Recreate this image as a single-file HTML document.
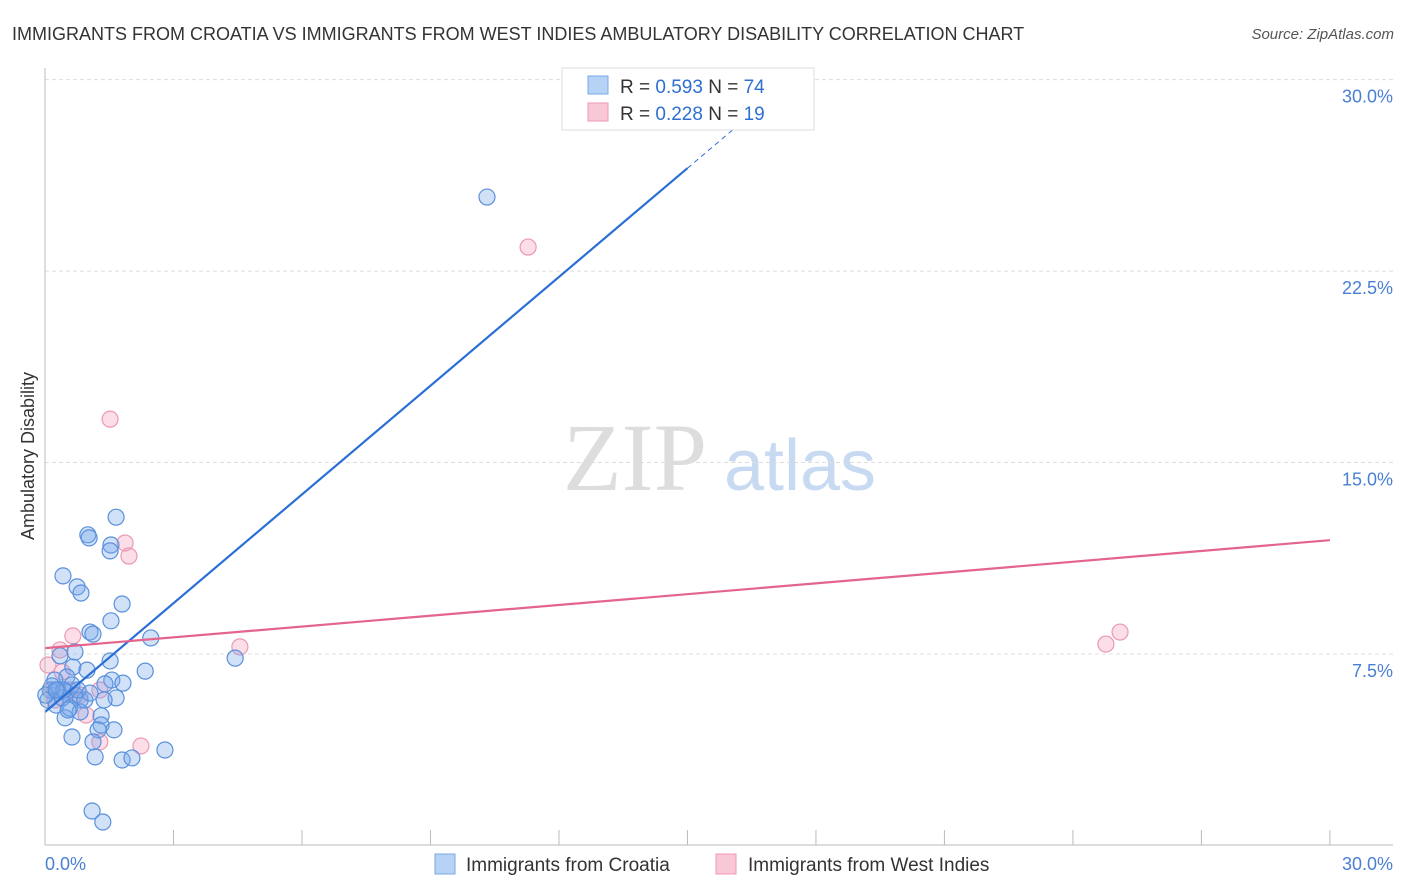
<!DOCTYPE html>
<html><head><meta charset="utf-8"><style>
body{margin:0;background:#fff;font-family:"Liberation Sans",sans-serif}
svg{display:block}
</style></head><body>
<svg id="c" width="1406" height="892">
<text x="12" y="40" font-size="18" fill="#333">IMMIGRANTS FROM CROATIA VS IMMIGRANTS FROM WEST INDIES AMBULATORY DISABILITY CORRELATION CHART</text>
<text x="1394" y="39" font-size="15" fill="#555" font-style="italic" text-anchor="end">Source: ZipAtlas.com</text>
<text x="34" y="456" font-size="18" fill="#333" text-anchor="middle" transform="rotate(-90 34 456)">Ambulatory Disability</text>
<g><text x="635" y="490" font-size="96" fill="#ddd" font-family="Liberation Serif" text-anchor="middle">ZIP</text><text x="800" y="490" font-size="72" fill="#c8daf2" text-anchor="middle">atlas</text></g>
<g id="grid"></g><g id="pts"></g><g id="lines"></g>
<line x1="45" y1="68" x2="45" y2="845" stroke="#bbb"/>
<line x1="45" y1="845" x2="1393" y2="845" stroke="#bbb"/>
<text x="45" y="870" font-size="18" fill="#4a7fd4">0.0%</text>
<text x="1393" y="870" font-size="18" fill="#4a7fd4" text-anchor="end">30.0%</text>
<g>
<rect x="562" y="68" width="252" height="62" fill="#fff" stroke="#ddd"/>
<rect x="588" y="76" width="20" height="18" fill="#b6d3f6" stroke="#7aaae8"/>
<rect x="588" y="103" width="20" height="18" fill="#f9c8d6" stroke="#ee9ab3"/>
<text x="620" y="93" font-size="19" fill="#333">R = <tspan fill="#2f6fd0">0.593</tspan>   N = <tspan fill="#2f6fd0">74</tspan></text>
<text x="620" y="120" font-size="19" fill="#333">R = <tspan fill="#2f6fd0">0.228</tspan>   N = <tspan fill="#2f6fd0">19</tspan></text>
</g>
<g>
<rect x="435" y="854" width="20" height="20" fill="#b6d3f6" stroke="#7aaae8"/>
<text x="466" y="871" font-size="19" fill="#333">Immigrants from Croatia</text>
<rect x="716" y="854" width="20" height="20" fill="#f9c8d6" stroke="#ee9ab3"/>
<text x="748" y="871" font-size="19" fill="#333">Immigrants from West Indies</text>
</g>
</svg>
<script>
const yTicks=[7.5,15,22.5,30];
const yTickLabels=["7.5%","15.0%","22.5%","30.0%"];
const xTicks=[0,3,6,9,12,15,18,21,24,27,30];
const croatiaX=[10.32,4.44,2.80,2.47,2.34,1.80,1.66,1.54,1.52,1.00,1.03,0.42,0.75,0.84,1.54,1.05,1.12,1.52,1.56,1.82,1.40,1.66,1.38,1.31,1.31,1.61,1.24,1.80,2.03,1.17,1.12,0.63,0.47,1.10,1.35,0.70,0.35,0.65,0.98,0.51,0.23,0.12,0.30,0.49,0.70,0.82,0.07,0.26,0.58,0.82,0.40,0.16,0.93,0.63,0.44,0.02,0.77,0.54,0.26,1.05];
const croatiaY=[25.40,7.34,3.74,8.13,6.83,9.46,12.86,11.77,11.54,12.17,12.05,10.56,10.13,9.89,8.80,8.36,8.28,7.23,6.48,6.36,6.33,5.78,5.70,5.08,4.72,4.53,4.53,3.35,3.43,3.47,4.06,4.25,5.00,1.35,0.92,7.58,7.43,6.99,6.87,6.60,6.48,6.09,6.09,6.01,5.89,5.70,5.70,5.50,5.38,5.23,5.78,6.25,5.70,6.29,6.09,5.89,6.09,5.31,6.09,5.97];
const wiX=[1.52,1.87,1.96,11.28,4.55,25.10,24.77,0.65,0.35,0.07,0.40,0.16,0.58,0.82,1.28,2.24,1.28,0.96,0.23];
const wiY=[16.70,11.85,11.34,23.44,7.78,8.36,7.89,8.21,7.66,7.07,6.80,6.09,6.09,5.89,6.09,3.90,4.06,5.11,5.70];
const croatiaFit=[5.23,1.42];
const wiFit=[7.73,0.141];
const NS='http://www.w3.org/2000/svg';
const sx=v=>45+v*42.83, sy=v=>845.5-v*25.53;
function mk(t,a,p){const e=document.createElementNS(NS,t);for(const k in a)e.setAttribute(k,a[k]);p.appendChild(e);return e;}
const grid=document.getElementById('grid');
yTicks.forEach((v,i)=>{
 const l=mk('line',{x1:45,x2:1393,y1:sy(v),y2:sy(v),stroke:'#ddd','stroke-dasharray':'4,3'},grid);
 
 
 const t=mk('text',{x:1393,y:sy(v)+23,'font-size':18,fill:'#4a7fd4','text-anchor':'end'},grid);
 t.textContent=yTickLabels[i];
 
 
});
xTicks.forEach(v=>{
 const l=mk('line',{x1:sx(v),x2:sx(v),y1:830,y2:845,stroke:'#bbb'},grid);
 
 
});
const pts=document.getElementById('pts');
wiX.forEach((x,i)=>{
 const c=mk('circle',{cx:sx(x),cy:sy(wiY[i]),r:8,fill:'rgba(244,160,188,0.35)',stroke:'#ec98b2','stroke-width':1.2},pts);
 
 
});
croatiaX.forEach((x,i)=>{
 const c=mk('circle',{cx:sx(x),cy:sy(croatiaY[i]),r:8,fill:'rgba(120,170,235,0.35)',stroke:'#5a90dc','stroke-width':1.2},pts);
 
 
});
const lines=document.getElementById('lines');
const f=(fit,x)=>fit[0]+fit[1]*x;
let l1=mk('line',{x1:sx(0),y1:sy(f(croatiaFit,0)),x2:sx(15),y2:sy(f(croatiaFit,15)),stroke:'#2a6fd6','stroke-width':2.2},lines);


let l2=mk('line',{x1:sx(15),y1:sy(f(croatiaFit,15)),x2:sx(16.9),y2:sy(f(croatiaFit,16.9)),stroke:'#2a6fd6','stroke-width':1,'stroke-dasharray':'5,4'},lines);


let l3=mk('line',{x1:sx(0),y1:sy(f(wiFit,0)),x2:sx(30),y2:sy(f(wiFit,30)),stroke:'#e4648e','stroke-width':2.2},lines);


</script>
</body></html>
